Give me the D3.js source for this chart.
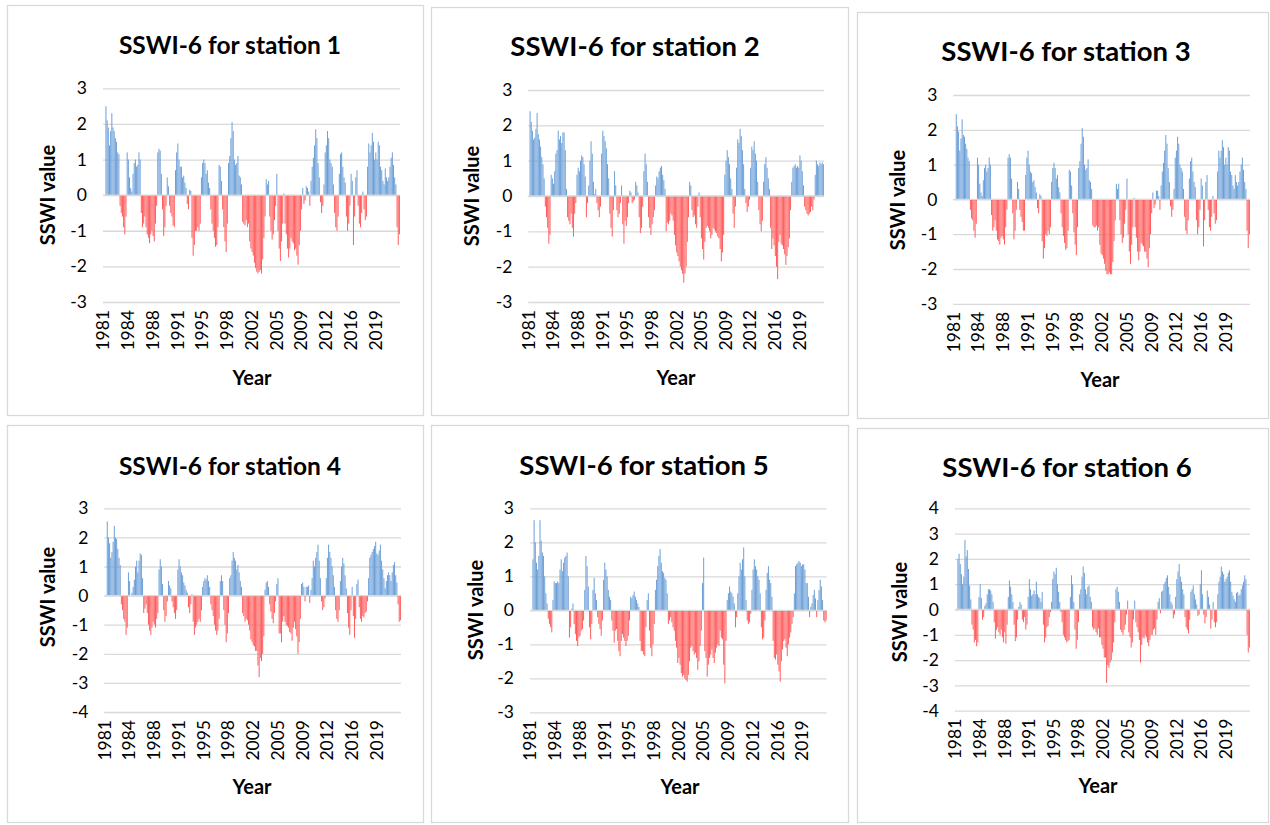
<!DOCTYPE html>
<html>
<head>
<meta charset="utf-8">
<script src="https://cdn.jsdelivr.net/npm/d3@7"></script>
<style>
  body { margin: 0; background: #fff; }
  svg { display: block; }
  text { font-family: Lato, "Open Sans", sans-serif; }
</style>
</head>
<body>
<div id="chart"></div>
<script>
// x labels every 42 months starting Jan 1981; one value per 2-month step, 1981-2022
var yearLabels = ["1981","1984","1988","1991","1995","1998","2002","2005","2009","2012","2016","2019"];
var titles = ["SSWI-6 for station 1","SSWI-6 for station 2","SSWI-6 for station 3",
              "SSWI-6 for station 4","SSWI-6 for station 5","SSWI-6 for station 6"];

var st1 = [0,0,2.5,2.1,1.9,1.4,1.8,2.3,1.9,1.8,1.6,1.5,
  1.2,1.15,-0.3,-0.5,-0.6,-0.9,-1.1,-0.6,1.2,1.0,0.5,0.2,
  0.1,0.6,0.9,1.0,0.8,0.85,1.2,1.0,-0.5,-0.9,-0.8,-0.6,
  -0.9,-1.1,-1.2,-1.35,-1.1,-1.0,-1.15,-1.3,-0.8,-0.3,1.2,1.3,
  1.25,0.6,-0.4,-1.15,-0.9,-0.3,0.5,0.25,-0.3,-0.5,-0.6,-0.85,
  -0.9,0.7,1.2,1.45,1.0,0.8,0.8,0.5,0.55,0.35,0.2,-0.25,
  -0.4,0.15,0.12,-1.2,-1.7,-1.4,-1.0,-1.0,-0.9,-1.0,-0.8,0.5,
  0.9,1.0,0.9,0.6,0.7,0.35,0.2,-0.4,-0.8,-1.0,-1.2,-1.45,
  -1.4,-0.9,0.85,0.8,0.4,-0.4,-0.9,-1.3,-1.6,-0.8,0.9,1.1,
  1.6,2.05,1.8,1.0,0.85,0.9,1.1,0.55,0.5,0.3,-0.75,-0.8,
  -0.85,-0.7,-0.9,-0.8,-1.3,-1.5,-1.6,-1.7,-1.9,-2.05,-2.15,-2.2,
  -2.15,-2.1,-2.2,-1.8,-1.2,-0.6,0.45,0.3,0.4,-0.6,-1.0,-1.25,
  -1.1,-0.7,-0.3,0.6,-1.0,-1.5,-1.85,-1.3,-0.8,0.05,-0.8,-1.1,
  -1.5,-1.75,-1.5,-1.2,-1.3,-1.35,-1.55,-1.5,-1.7,-1.95,-1.4,-1.0,
  -0.4,0.2,-0.25,-0.15,0.25,0.2,0.1,-0.3,0.4,0.8,1.05,1.4,
  1.85,1.6,0.9,0.5,-0.2,-0.5,-0.3,0.3,1.2,1.4,1.8,1.6,
  1.0,0.9,0.8,0.3,-0.5,-0.9,-1.0,-0.6,0.6,1.15,1.2,0.8,
  0.5,0.35,-0.6,-1.0,-0.8,-0.3,0.6,0.4,-1.4,-0.6,0.5,0.7,
  -0.3,-0.8,-0.9,-0.5,0.1,-0.4,-0.7,-0.6,0.8,1.45,1.2,1.4,
  1.75,1.5,1.0,1.2,1.0,1.5,1.4,0.8,0.7,0.4,0.3,0.75,
  0.5,0.4,0.5,0.8,1.05,1.2,0.85,0.5,0.3,-0.9,-1.4,-1.1];

var st2 = [0,2.4,2.1,1.85,1.6,1.65,1.9,2.35,1.75,1.6,1.4,1.1,
  0.9,0.5,-0.3,-0.6,-0.9,-1.35,-1.1,0.6,0.5,0.35,0.7,1.2,
  1.3,1.85,1.6,1.7,1.5,1.8,1.8,1.3,0.2,-0.6,-0.7,-0.8,
  -0.5,-0.9,-1.15,-0.5,-0.2,0.6,0.8,0.7,1.0,1.15,1.1,0.9,
  0.55,-0.6,-0.2,0.3,1.0,1.55,1.2,0.4,0.05,0.2,-0.2,-0.4,
  -0.6,-0.3,1.2,1.85,1.7,1.55,1.35,0.9,0.5,-0.5,-0.9,-1.15,
  -0.4,0.7,0.3,-0.4,-0.6,-0.5,-0.2,0.3,-0.8,-1.35,-0.7,-0.85,
  -0.6,-0.2,0.15,0.1,-0.2,-0.15,-0.1,0.4,0.3,0.1,-0.6,-1.05,
  -0.9,-0.3,0.7,1.2,0.9,0.4,-0.6,-0.9,-1.1,-0.8,-0.6,-0.4,
  0.3,0.55,0.5,0.7,0.8,0.85,0.6,0.45,0.2,-1.0,-0.75,-0.8,
  -0.7,-0.5,-0.55,-0.7,-1.1,-1.4,-1.6,-1.7,-1.85,-2.0,-2.1,-2.2,
  -2.45,-2.2,-2.0,-1.3,-0.6,0.4,0.3,-0.4,-0.6,-0.55,-0.8,-0.9,
  -0.3,0.1,-0.6,-1.2,-1.5,-1.8,-1.3,-0.9,-0.85,-0.9,-1.0,-1.2,
  -1.1,-0.9,-0.95,-1.0,-1.05,-1.15,-1.2,-1.5,-1.85,-1.6,-1.1,0.6,
  1.0,1.3,1.1,0.9,0.5,0.2,-0.5,-0.9,-0.3,0.8,1.6,1.5,
  1.9,1.7,1.3,0.9,0.2,-0.2,-0.45,-0.3,-0.1,0.8,1.4,1.3,
  1.55,1.2,1.0,0.4,-0.4,-0.8,-1.0,-0.7,0.4,0.9,1.1,0.8,
  0.5,0.2,-0.9,-1.5,-1.2,-1.4,-1.7,-2.0,-2.35,-1.3,-1.1,-1.35,
  -1.4,-1.5,-1.65,-1.95,-1.7,-1.45,-1.2,-0.4,0.4,0.8,0.85,0.9,
  0.8,0.85,0.8,1.15,1.0,0.7,0.3,-0.3,-0.4,-0.5,-0.55,-0.5,
  -0.45,-0.3,-0.4,-0.1,0.6,1.0,0.9,0.85,0.95,0.9,0.95,0.9];

var st3 = [0,0,2.45,2.1,1.95,1.4,1.75,2.3,1.85,1.8,1.6,1.45,
  1.2,1.1,-0.3,-0.55,-0.6,-0.9,-1.1,-0.7,1.2,1.0,0.45,0.2,
  0.1,0.55,0.9,1.0,0.8,0.9,1.2,1.0,-0.45,-0.9,-0.8,-0.6,
  -0.9,-1.15,-1.2,-1.3,-1.1,-1.05,-1.15,-1.3,-0.8,-0.3,1.2,1.3,
  1.2,0.6,-0.4,-1.15,-0.9,-0.3,0.5,0.3,-0.3,-0.5,-0.65,-0.9,
  -0.9,0.7,1.2,1.4,1.0,0.8,0.75,0.5,0.55,0.35,0.2,-0.25,
  -0.4,0.15,0.1,-1.2,-1.7,-1.4,-1.0,-1.05,-0.9,-1.0,-0.8,0.5,
  0.9,1.05,0.9,0.6,0.7,0.35,0.2,-0.4,-0.8,-1.05,-1.25,-1.45,
  -1.4,-0.9,0.85,0.8,0.4,-0.4,-0.95,-1.3,-1.6,-0.8,0.9,1.1,
  1.6,2.05,1.8,1.0,0.85,0.9,1.15,0.55,0.5,0.3,-0.75,-0.8,
  -0.8,-0.75,-0.9,-0.8,-1.3,-1.55,-1.6,-1.7,-1.85,-2.05,-2.15,-2.15,
  -2.1,-2.15,-2.15,-1.8,-1.2,-0.6,0.45,0.3,0.45,-0.6,-1.0,-1.25,
  -1.1,-0.7,-0.3,0.6,-1.0,-1.5,-1.85,-1.3,-0.8,0.05,-0.8,-1.1,
  -1.5,-1.75,-1.5,-1.25,-1.3,-1.35,-1.5,-1.5,-1.7,-1.95,-1.4,-1.0,
  -0.4,0.2,-0.25,-0.15,0.25,0.25,0.1,-0.3,0.4,0.8,1.05,1.4,
  1.85,1.6,0.9,0.5,-0.2,-0.5,-0.3,0.3,1.2,1.4,1.8,1.6,
  1.0,0.9,0.8,0.3,-0.5,-0.9,-1.0,-0.6,0.6,1.1,1.2,0.8,
  0.5,0.35,-0.6,-1.0,-0.8,-0.3,0.6,0.4,-1.35,-0.6,0.5,0.7,
  -0.3,-0.8,-0.9,-0.5,0.1,-0.4,-0.7,-0.6,0.8,1.4,1.2,1.4,
  1.7,1.5,1.0,1.2,1.0,1.5,1.4,0.8,0.7,0.4,0.3,0.7,
  0.5,0.4,0.5,0.8,1.0,1.2,0.85,0.5,0.3,-0.9,-1.4,-1.0];

var st4 = [0,0,2.55,2.0,1.8,1.3,1.5,1.85,2.4,2.0,1.95,1.6,
  1.3,1.05,-0.3,-0.5,-0.8,-0.9,-1.35,-1.1,0.8,0.5,0,0.1,
  0.3,0.55,1.0,1.2,0.8,1.2,1.45,1.4,0.6,-0.6,-0.45,-0.3,
  -0.6,-1.0,-1.2,-1.35,-1.1,-0.9,-1.0,-1.1,-0.8,-0.6,0.9,1.25,
  1.0,0.4,-0.5,-0.9,-0.7,-0.2,0.5,0.35,0.25,-0.2,-0.4,-0.6,
  -0.8,-0.5,0.9,1.25,1.0,0.8,0.7,0.45,0.35,0.2,0.1,-0.4,
  -0.6,-0.3,0.05,-0.9,-1.35,-1.1,-1.0,-0.9,-0.8,-0.9,-0.5,0.3,
  0.5,0.6,0.55,0.7,0.5,0.3,-0.3,-0.5,-0.7,-1.0,-1.2,-1.35,
  -1.2,-0.8,0.5,0.7,0.5,-0.5,-1.0,-1.6,-1.3,-0.6,0.6,0.7,
  1.2,1.5,1.3,1.2,0.9,1.05,0.8,0.5,0.3,-0.6,-0.7,-0.9,
  -0.8,-0.85,-1.0,-1.2,-1.5,-1.6,-1.7,-1.75,-1.9,-1.9,-2.4,-2.8,
  -2.15,-2.25,-2.0,-1.4,0.2,0.45,0.5,0.3,-0.3,-0.55,-0.8,-0.95,
  -0.6,-0.2,0.4,0.6,-1.3,-1.3,-1.6,-0.9,-0.7,-0.9,-1.0,-1.05,
  -1.1,-1.25,-1.3,-1.55,-1.1,-0.9,-1.15,-1.4,-2.0,-1.6,-0.8,0.4,
  0.45,0.3,-0.2,0.3,0.3,0.35,-0.25,0.2,0.6,1.2,1.0,1.3,
  1.5,1.75,1.2,0.6,-0.2,-0.5,-0.4,-0.1,0.6,1.3,1.75,1.5,
  1.3,1.0,0.7,0.3,-0.5,-0.8,-0.9,-0.5,0.5,1.0,1.3,1.1,
  0.7,0.25,-0.6,-1.1,-1.35,-0.5,0.3,-0.7,-1.45,-0.8,0.4,0.55,
  -0.4,-0.8,-0.9,-0.7,-0.75,-0.6,-0.55,-0.2,0.6,1.3,1.4,1.5,
  1.6,1.7,1.85,1.45,1.4,1.55,1.75,1.2,0.9,0.6,0.25,0.5,
  0.7,0.8,0.7,0.5,0.8,1.05,1.15,0.7,0.45,-0.3,-0.9,-0.85];

var st5 = [0,0,1.5,2.65,2.0,1.4,1.2,1.6,2.65,2.05,1.7,1.6,
  1.0,0.5,0.2,-0.25,-0.4,-0.5,-0.65,0.3,0.85,0.8,0.8,0.85,
  0.8,1.2,1.5,1.15,1.4,1.55,1.6,1.7,1.0,-0.8,-0.5,0.05,
  0.2,-0.4,-0.7,-0.9,-1.05,-0.8,-0.75,-0.6,-0.55,-0.3,0.6,1.6,
  1.3,0.7,-0.5,-0.85,-0.4,0.6,0.95,0.5,0.3,-0.2,-0.4,-0.55,
  -0.75,-0.3,0.9,1.4,1.2,1.0,0.6,0.4,0.3,-0.3,-0.6,-0.95,
  -0.6,-0.55,-0.9,-1.2,-1.35,-0.9,-0.7,-0.8,-0.9,-1.05,-0.9,-0.75,
  -0.3,0.4,0.35,0.45,0.55,0.4,0.3,0.2,0.1,-0.9,-1.2,-1.2,
  -1.3,-1.35,-0.5,0.3,0.5,-0.6,-1.1,-1.35,-1.0,-0.4,0.6,0.9,
  1.3,1.6,1.8,1.4,1.15,1.1,0.95,0.9,0.5,-0.4,-0.3,-0.2,
  -0.35,-0.5,-0.6,-0.9,-1.1,-1.55,-1.4,-1.6,-1.85,-1.95,-1.9,-2.0,
  -2.05,-2.1,-1.9,-1.5,-1.1,-1.05,-1.2,-1.3,-1.25,-1.4,-1.75,-1.5,
  -1.05,-0.6,0.8,1.55,-1.2,-1.4,-1.95,-1.6,-1.4,-1.3,-1.15,-1.4,
  -1.55,-1.25,-1.1,-1.0,-1.05,-0.6,-0.8,-0.85,-1.6,-2.15,-0.9,0.3,
  0.5,0.7,0.55,0.5,0.4,0.2,-0.5,-0.2,0.5,1.0,1.4,1.2,
  1.5,1.85,1.0,0.3,-0.3,-0.4,-0.35,-0.1,0.6,1.2,1.5,1.3,
  1.2,1.0,0.9,0.5,-0.5,-0.85,-0.8,-0.3,0.6,1.1,1.3,0.9,
  0.8,0.4,-0.9,-1.4,-1.45,-1.3,-1.6,-1.8,-2.1,-1.5,-1.15,-0.9,
  -0.85,-1.1,-1.35,-1.0,-0.8,-0.65,-0.4,-0.2,0.5,1.3,1.35,1.4,
  1.45,1.4,1.3,1.35,1.35,1.2,0.8,0.8,0.4,-0.2,0.1,0.2,
  0.45,0.6,0.35,-0.2,0.3,0.6,0.9,0.7,0.3,-0.3,-0.35,-0.3];

var st6 = [0,0,2.0,2.2,1.8,1.4,1.0,1.3,2.75,2.1,2.35,1.6,
  0.95,0.4,-0.6,-0.8,-1.3,-1.2,-1.45,-1.3,0.5,1.0,0.45,-0.4,
  -0.3,0.15,0.25,0.6,0.8,0.8,0.75,0.6,0.3,-0.5,-1.15,-0.8,
  -0.7,-0.9,-1.0,-0.8,-1.1,-1.3,-0.9,-1.35,-0.6,0.5,1.15,0.9,
  0.6,0.3,-0.6,-1.25,-1.1,-0.4,0.1,0.3,0.2,-0.4,-0.5,-0.3,
  -0.8,-0.6,0.5,1.2,0.8,0.55,0.6,0.75,0.6,1.1,0.6,0.5,
  0.45,0.3,0.7,-0.6,-1.3,-1.1,-0.7,-0.65,-0.3,-0.1,0.3,1.2,
  1.5,1.4,1.65,1.0,0.7,0.3,-0.1,-0.5,-1.0,-1.1,-1.2,-1.3,
  -1.25,-1.2,0.5,1.35,1.0,0.3,-0.8,-1.55,-1.2,-0.5,0.6,0.8,
  1.3,1.7,1.45,0.8,0.6,0.9,0.95,0.5,0.3,-0.7,-0.8,-0.75,
  -0.9,-1.0,-0.75,-1.1,-1.1,-1.4,-1.55,-1.9,-1.9,-2.9,-2.2,-2.3,
  -2.1,-2.0,-1.7,-1.3,-0.5,0.8,0.9,0.7,0.3,-0.8,-0.9,-1.0,
  -0.8,-0.6,-0.2,0.35,-0.9,-1.1,-1.5,-1.3,-0.4,0.35,-0.5,-0.7,
  -0.9,-1.2,-2.1,-1.4,-1.1,-1.15,-1.0,-1.1,-1.3,-1.45,-1.2,-1.0,
  -1.0,-0.8,-0.75,-1.0,-0.4,0.3,0.45,-0.15,0.7,0.75,1.0,1.1,
  1.25,1.35,0.9,0.6,0.3,0.2,-0.35,-0.2,0.5,1.2,1.5,1.8,
  1.3,1.1,0.8,0.6,-0.3,-0.7,-0.8,-0.95,-0.4,0.7,0.8,0.95,
  0.6,0.4,0.2,-0.25,-0.2,1.0,1.55,0.6,-0.2,-0.55,-0.3,0.75,
  0.5,0.2,-0.75,-0.4,0.3,-0.5,-0.7,-0.5,0.6,1.1,1.3,1.7,
  1.5,1.4,1.1,1.2,1.3,1.45,1.55,1.1,0.7,0.55,0.4,0.3,
  0.65,0.7,0.55,0.6,0.8,0.95,1.1,1.35,1.2,-1.0,-1.7,-1.5];

var nSteps = 252;   // 2-month steps, Jan 1981 - Dec 2022
var blue = "#6b9fd8", red = "#ff5c5c", grid = "#d9d9d9";

var panels = [
  {data: st1, title: titles[0], box: [7, 5, 416, 410],    plot: [103, 400, 88.3, 302],     yMax: 3, yMin: -3, titleX: 230,  titleY: 54,  titleSize: 24.5, labelX: 48,  labelY: 195, yearX: 252,  yearY: 385},
  {data: st2, title: titles[1], box: [431, 7, 417, 408],  plot: [528.3, 824, 90, 302],     yMax: 3, yMin: -3, titleX: 635,  titleY: 56,  titleSize: 27.5, labelX: 472, labelY: 196, yearX: 676,  yearY: 385},
  {data: st3, title: titles[2], box: [857, 12, 411, 406], plot: [953.3, 1250, 95, 303.8],  yMax: 3, yMin: -3, titleX: 1066, titleY: 61,  titleSize: 27.5, labelX: 898, labelY: 200, yearX: 1100, yearY: 387},
  {data: st4, title: titles[3], box: [7, 425, 416, 397],  plot: [104.3, 401, 508.3, 712],  yMax: 3, yMin: -4, titleX: 230,  titleY: 475, titleSize: 24.5, labelX: 48,  labelY: 597, yearX: 252,  yearY: 794},
  {data: st5, title: titles[4], box: [431, 425, 417, 397],plot: [530, 826.7, 508.3, 712.3],yMax: 3, yMin: -3, titleX: 644,  titleY: 475, titleSize: 27.5, labelX: 476, labelY: 610, yearX: 680,  yearY: 794},
  {data: st6, title: titles[5], box: [857, 428, 411, 394],plot: [955, 1250, 508.3, 710.7], yMax: 4, yMin: -4, titleX: 1067, titleY: 477, titleSize: 27.5, labelX: 900, labelY: 612, yearX: 1098, yearY: 793}
];

var svg = d3.select("#chart").append("svg")
    .attr("width", 1270)
    .attr("height", 825);

panels.forEach(function(p) {
    var g = svg.append("g");

    // chart area border
    g.append("rect")
        .attr("x", p.box[0] + 0.5).attr("y", p.box[1] + 0.5)
        .attr("width", p.box[2]).attr("height", p.box[3])
        .attr("fill", "#fff").attr("stroke", grid).attr("stroke-width", 1.3);

    var x = d3.scaleLinear().domain([0, nSteps]).range([p.plot[0], p.plot[1]]);
    var y = d3.scaleLinear().domain([p.yMax, p.yMin]).range([p.plot[2], p.plot[3]]);
    var months = d3.scaleLinear().domain([0, nSteps * 2]).range([p.plot[0], p.plot[1]]);

    // y axis + gridlines
    var yAxis = g.append("g")
        .attr("transform", "translate(" + p.plot[0] + ",0)")
        .call(d3.axisLeft(y)
            .tickValues(d3.range(p.yMin, p.yMax + 1))
            .tickSize(-(p.plot[1] - p.plot[0]))
            .tickPadding(16)
            .tickFormat(function(d) { return String(d); }));
    yAxis.select(".domain").remove();
    yAxis.selectAll("line").attr("stroke", grid).attr("stroke-width", 1.3);
    yAxis.selectAll("text")
        .attr("fill", "#000")
        .style("font-size", "17.5px");

    // bars
    var bw = x(1) - x(0);
    g.append("g").selectAll("rect")
        .data(p.data)
        .enter().append("rect")
        .attr("x", function(d, i) { return x(i) + bw * 0.08; })
        .attr("width", bw * 0.84)
        .attr("y", function(d) { return d >= 0 ? y(d) : y(0); })
        .attr("height", function(d) { return Math.abs(y(d) - y(0)); })
        .attr("fill", function(d) { return d >= 0 ? blue : red; });

    // zero line on top
    g.append("line")
        .attr("x1", p.plot[0]).attr("x2", p.plot[1])
        .attr("y1", y(0)).attr("y2", y(0))
        .attr("stroke", grid).attr("stroke-width", 1.3);

    // rotated year labels
    g.append("g").selectAll("text")
        .data(yearLabels)
        .enter().append("text")
        .attr("transform", function(d, k) {
            return "translate(" + months(42 * k + 0.5) + "," + (p.plot[3] + 8) + ") rotate(-90)";
        })
        .attr("text-anchor", "end")
        .attr("dy", "0.35em")
        .attr("fill", "#000")
        .style("font-size", "17.5px")
        .text(function(d) { return d; });

    // title and axis titles
    g.append("text")
        .attr("x", p.titleX)
        .attr("y", p.titleY)
        .attr("text-anchor", "middle")
        .style("font-size", p.titleSize + "px").style("font-weight", "bold")
        .text(p.title);

    g.append("text")
        .attr("transform", "translate(" + p.labelX + "," + p.labelY + ") rotate(-90)")
        .attr("text-anchor", "middle")
        .attr("dy", "0.35em")
        .style("font-size", "20px").style("font-weight", "bold")
        .text("SSWI value");

    g.append("text")
        .attr("x", p.yearX).attr("y", p.yearY)
        .attr("text-anchor", "middle")
        .style("font-size", "20px").style("font-weight", "bold")
        .text("Year");
});
</script>
</body>
</html>
